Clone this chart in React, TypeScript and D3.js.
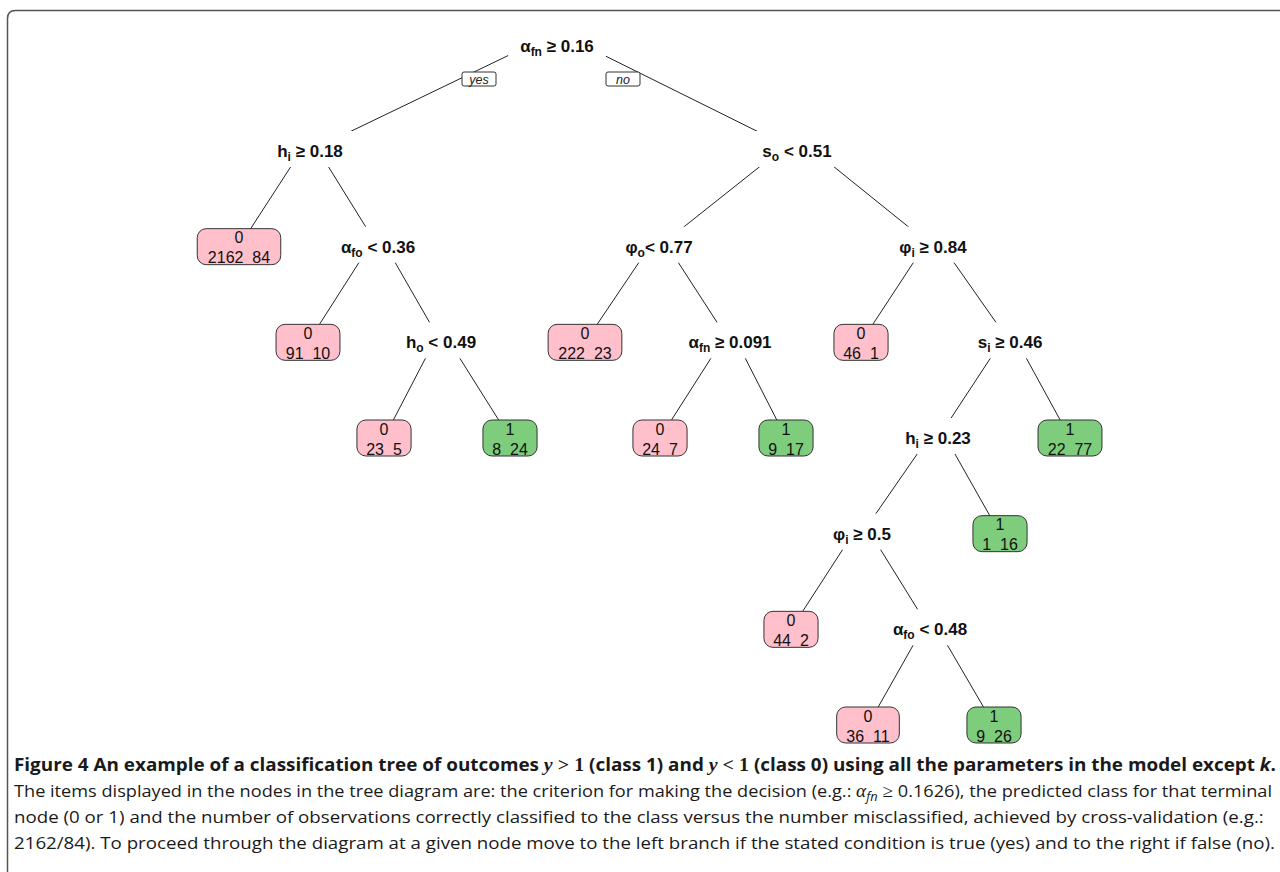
import { useEffect, useRef } from 'react'
import * as d3 from 'd3'

interface SplitNode {
  id: number
  parent: number | null
  depth: number
  x: number
  sym: string // main symbol of the variable
  sub: string // subscript
  rest: string // operator and threshold
}

interface LeafNode {
  id: number
  parent: number
  depth: number
  x: number
  cls: number
  correct: number
  wrong: number
}

// split (decision) nodes, rpart numbering
const splitNodes: SplitNode[] = [
  { id: 1, parent: null, depth: 0, x: 557, sym: 'α', sub: 'fn', rest: ' ≥ 0.16' },
  { id: 2, parent: 1, depth: 1, x: 310, sym: 'h', sub: 'i', rest: ' ≥ 0.18' },
  { id: 3, parent: 1, depth: 1, x: 797, sym: 's', sub: 'o', rest: ' < 0.51' },
  { id: 5, parent: 2, depth: 2, x: 378, sym: 'α', sub: 'fo', rest: ' < 0.36' },
  { id: 6, parent: 3, depth: 2, x: 659, sym: 'φ', sub: 'o', rest: '< 0.77' },
  { id: 7, parent: 3, depth: 2, x: 933, sym: 'φ', sub: 'i', rest: ' ≥ 0.84' },
  { id: 11, parent: 5, depth: 3, x: 441, sym: 'h', sub: 'o', rest: ' < 0.49' },
  { id: 13, parent: 6, depth: 3, x: 730, sym: 'α', sub: 'fn', rest: ' ≥ 0.091' },
  { id: 15, parent: 7, depth: 3, x: 1010, sym: 's', sub: 'i', rest: ' ≥ 0.46' },
  { id: 30, parent: 15, depth: 4, x: 938, sym: 'h', sub: 'i', rest: ' ≥ 0.23' },
  { id: 60, parent: 30, depth: 5, x: 862, sym: 'φ', sub: 'i', rest: ' ≥ 0.5' },
  { id: 121, parent: 60, depth: 6, x: 930, sym: 'α', sub: 'fo', rest: ' < 0.48' },
]

// terminal nodes: predicted class, correctly classified, misclassified
const leafNodes: LeafNode[] = [
  { id: 4, parent: 2, depth: 2, x: 239, cls: 0, correct: 2162, wrong: 84 },
  { id: 10, parent: 5, depth: 3, x: 308, cls: 0, correct: 91, wrong: 10 },
  { id: 22, parent: 11, depth: 4, x: 384, cls: 0, correct: 23, wrong: 5 },
  { id: 23, parent: 11, depth: 4, x: 510, cls: 1, correct: 8, wrong: 24 },
  { id: 12, parent: 6, depth: 3, x: 585, cls: 0, correct: 222, wrong: 23 },
  { id: 26, parent: 13, depth: 4, x: 660, cls: 0, correct: 24, wrong: 7 },
  { id: 27, parent: 13, depth: 4, x: 786, cls: 1, correct: 9, wrong: 17 },
  { id: 14, parent: 7, depth: 3, x: 861, cls: 0, correct: 46, wrong: 1 },
  { id: 31, parent: 15, depth: 4, x: 1070, cls: 1, correct: 22, wrong: 77 },
  { id: 61, parent: 30, depth: 5, x: 1000, cls: 1, correct: 1, wrong: 16 },
  { id: 120, parent: 60, depth: 6, x: 791, cls: 0, correct: 44, wrong: 2 },
  { id: 242, parent: 121, depth: 7, x: 868, cls: 0, correct: 36, wrong: 11 },
  { id: 243, parent: 121, depth: 7, x: 994, cls: 1, correct: 9, wrong: 26 },
]

const branchLabels = ['yes', 'no']
const classColors = ['#FFC0CB', '#7DCD7D']

// caption, one array of [text, style] pieces per line
type Piece = [string, string]
const captionLine1: Piece[] = [
  ['Figure 4 An example of a classification tree of outcomes ', 'b'],
  ['y', 'mi'], [' > 1', 'mr'],
  [' (class 1) and ', 'b'],
  ['y', 'mi'], [' < 1', 'mr'],
  [' (class 0) using all the parameters in the model except ', 'b'],
  ['k', 'bi'], ['.', 'b'],
]
const captionLine2: Piece[] = [
  ['The items displayed in the nodes in the tree diagram are: the criterion for making the decision (e.g.: ', 'r'],
  ['α', 'mi'], ['fn', 'sub'], [' ≥ ', 'mr'],
  ['0.1626), the predicted class for that terminal', 'r'],
]
const captionLine3: Piece[] = [
  ['node (0 or 1) and the number of observations correctly classified to the class versus the number misclassified, achieved by cross-validation (e.g.:', 'r'],
]
const captionLine4: Piece[] = [
  ['2162/84). To proceed through the diagram at a given node move to the left branch if the stated condition is true (yes) and to the right if false (no).', 'r'],
]
const captionLines = [captionLine1, captionLine2, captionLine3, captionLine4]
// right end of each line; line 3 is left to flow at the common density
const captionEnds: (number | null)[] = [1276, 1272, null, 1275]

const W = 1280
const H = 872

export default function App() {
  const svgRef = useRef<SVGSVGElement>(null)

  useEffect(() => {
    if (!svgRef.current) return
    const svg = d3.select(svgRef.current)
    svg.selectAll('*').remove()

    const ctx = document.createElement('canvas').getContext('2d')!
    const measure = (txt: string, font: string) => {
      ctx.font = font
      return ctx.measureText(txt).width
    }

    const xScale = d3.scaleLinear().domain([0, W]).range([0, W])
    const yScale = d3.scaleLinear().domain([0, 1, 7]).range([46, 151, 725])

    const pos = new Map<number, { x: number; y: number }>()
    splitNodes.forEach(d => pos.set(d.id, { x: xScale(d.x), y: yScale(d.depth) }))
    leafNodes.forEach(d => pos.set(d.id, { x: xScale(d.x), y: yScale(d.depth) }))

    svg.append('rect').attr('width', W).attr('height', H).attr('fill', '#fff')

    // frame
    svg.append('path')
      .attr('d', `M7.5,${H + 10} V18.5 Q7.5,10.5 15.5,10.5 H${W + 10}`)
      .attr('fill', 'none')
      .attr('stroke', '#555')
      .attr('stroke-width', 1.5)

    // branches
    const edges = [...splitNodes, ...leafNodes].filter(d => d.parent != null)
    svg.append('g')
      .selectAll('line')
      .data(edges)
      .enter()
      .append('line')
      .attr('x1', d => pos.get(d.parent as number)!.x)
      .attr('y1', d => pos.get(d.parent as number)!.y - 14)
      .attr('x2', d => pos.get(d.id)!.x)
      .attr('y2', d => pos.get(d.id)!.y)
      .attr('stroke', '#222')
      .attr('stroke-width', 1)

    // split labels
    const labelFont = 'bold 17px "Liberation Sans"'
    const subFont = 'bold 12px "Liberation Sans"'
    const labelW = (d: SplitNode) => measure(d.sym + d.rest, labelFont) + measure(d.sub, subFont)
    const sg = svg.append('g')
      .selectAll('g')
      .data(splitNodes)
      .enter()
      .append('g')
      .attr('transform', d => `translate(${pos.get(d.id)!.x},${pos.get(d.id)!.y})`)

    sg.append('rect')
      .attr('x', d => -labelW(d) / 2 - 12)
      .attr('y', -20)
      .attr('width', d => labelW(d) + 24)
      .attr('height', 36)
      .attr('fill', '#fff')

    const st = sg.append('text')
      .attr('y', 6)
      .attr('text-anchor', 'middle')
      .attr('font-family', '"Liberation Sans", Arial, sans-serif')
      .attr('font-weight', 'bold')
      .attr('font-size', 17)
      .attr('fill', '#111')
    st.append('tspan').text(d => d.sym)
    st.append('tspan').attr('font-size', 12).attr('dy', 4).text(d => d.sub)
    st.append('tspan').attr('dy', -4).style('white-space', 'pre').text(d => d.rest)

    // yes / no
    const root = pos.get(1)!
    const yn = svg.append('g')
      .selectAll('g')
      .data(branchLabels)
      .enter()
      .append('g')
      .attr('transform', (_, i) => `translate(${root.x + (i === 0 ? -78 : 66)},${root.y + 33})`)
    yn.append('rect')
      .attr('x', -17).attr('y', -7).attr('width', 34).attr('height', 14)
      .attr('rx', 2)
      .attr('fill', '#fff')
      .attr('stroke', '#333')
      .attr('stroke-width', 1)
    yn.append('text')
      .attr('y', 4.5)
      .attr('text-anchor', 'middle')
      .attr('font-family', '"Liberation Sans", Arial, sans-serif')
      .attr('font-style', 'italic')
      .attr('font-size', 12.5)
      .attr('fill', '#222')
      .text(d => d)

    // leaves
    const leafFont = '16px "Liberation Sans"'
    const countText = (d: LeafNode) => `${d.correct}  ${d.wrong}`
    const boxW = (d: LeafNode) => Math.max(54, measure(countText(d), leafFont) * 1.1 + 15)
    const lg = svg.append('g')
      .selectAll('g')
      .data(leafNodes)
      .enter()
      .append('g')
      .attr('transform', d => `translate(${pos.get(d.id)!.x},${pos.get(d.id)!.y})`)
    lg.append('rect')
      .attr('x', d => -boxW(d) / 2)
      .attr('y', -18)
      .attr('width', d => boxW(d))
      .attr('height', 36)
      .attr('rx', 9)
      .attr('fill', d => classColors[d.cls])
      .attr('stroke', '#333')
      .attr('stroke-width', 1)
    lg.append('text')
      .attr('y', -3.5)
      .attr('text-anchor', 'middle')
      .attr('font-family', '"Liberation Sans", Arial, sans-serif')
      .attr('font-size', 16)
      .attr('fill', '#111')
      .text(d => String(d.cls))
    lg.append('text')
      .attr('y', 16.5)
      .attr('text-anchor', 'middle')
      .attr('font-family', '"Liberation Sans", Arial, sans-serif')
      .attr('font-size', 16)
      .attr('fill', '#111')
      .style('white-space', 'pre')
      .text(d => countText(d))

    // caption
    const capX = 14
    const baselines = [771, 797, 823, 849]
    const texts = captionLines.map((pieces, li) => {
      const t = svg.append('text')
        .attr('x', capX)
        .attr('y', baselines[li])
        .attr('font-family', '"Open Sans", sans-serif')
        .attr('font-size', 17)
        .attr('fill', '#1a1a1a')
        .style('white-space', 'pre')
      let afterSub = false
      pieces.forEach(([txt, style]) => {
        const s = t.append('tspan').text(txt)
        if (afterSub) { s.attr('dy', -4); afterSub = false }
        if (style === 'b') s.attr('font-weight', 'bold')
        if (style === 'mi') s.attr('font-family', '"Liberation Serif", serif').attr('font-style', 'italic')
          .attr('font-weight', li === 0 ? 'bold' : 'normal').attr('font-size', 18)
        if (style === 'mr') s.attr('font-family', '"Liberation Serif", serif')
          .attr('font-weight', li === 0 ? 'bold' : 'normal').attr('font-size', 18)
        if (style === 'bi') s.attr('font-weight', 'bold').attr('font-style', 'italic')
        if (style === 'sub') {
          s.attr('font-style', 'italic').attr('font-size', 12).attr('dy', 4)
          afterSub = true
        }
      })
      return t
    })
    const natural = texts.map(t => (t.node() as SVGTextElement).getComputedTextLength())
    const density = ((captionEnds[3] as number) - capX) / natural[3]
    texts.forEach((t, li) => {
      const end = captionEnds[li]
      const len = end == null ? natural[li] * density : end - capX
      t.attr('textLength', len).attr('lengthAdjust', 'spacingAndGlyphs')
    })
  }, [])

  return (
    <svg
      ref={svgRef}
      width={W}
      height={H}
      style={{ position: 'absolute', left: 0, top: 0, display: 'block' }}
    />
  )
}
